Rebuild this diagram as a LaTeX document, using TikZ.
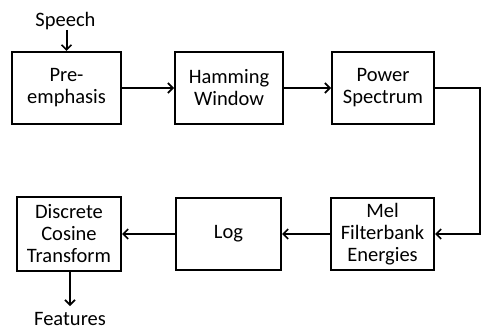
\documentclass[tikz,border=0pt]{standalone}
\usepackage{fontspec}
\setmainfont{Carlito}
\usetikzlibrary{arrows.meta}
\begin{document}
\begin{tikzpicture}[x=1pt,y=-1pt,
  blk/.style={draw=black, line width=2pt, minimum height=72pt, inner sep=0pt, align=center,
    font=\fontsize{20.5}{22}\selectfont, text=black},
  lbl/.style={inner sep=0pt, font=\fontsize{20.5}{22}\selectfont, text=black},
  con/.style={line width=2pt, -{Straight Barb[length=5pt,width=10pt,line width=1.6pt]}}]
\useasboundingbox (0,0) rectangle (481,331);
\node[blk, minimum width=109pt] (pre) at (66.5,88) {Pre-\\emphasis};
\node[blk, minimum width=108pt] (ham) at (229,88) {Hamming\\Window};
\node[blk, minimum width=102pt] (pow) at (383,88) {Power\\Spectrum};
\node[blk, minimum width=103pt] (mel) at (382.5,234) {Mel\\Filterbank\\Energies};
\node[blk, minimum width=105pt] (log) at (228.5,234) {Log};
\node[blk, minimum width=104pt, minimum height=74pt] (dct) at (69,234) {Discrete\\Cosine\\Transform};
\node[lbl] (sp) at (65.5,21) {Speech};
\node[lbl, anchor=north] (feat) at (70,312) {Features};
\coordinate (c1) at (480,88);
\coordinate (c2) at (480,234);
\coordinate (fe) at (70,306);
\draw[con] (sp.south -| pre.north) -- (pre.north);
\draw[con] (pre) -- (ham);
\draw[con] (ham) -- (pow);
\draw[con] (pow.east) -- (c1) -- (c2) -- (mel.east);
\draw[con] (mel) -- (log);
\draw[con] (log) -- (dct);
\draw[con] (dct.south -| fe) -- (fe);
\end{tikzpicture}
\end{document}
